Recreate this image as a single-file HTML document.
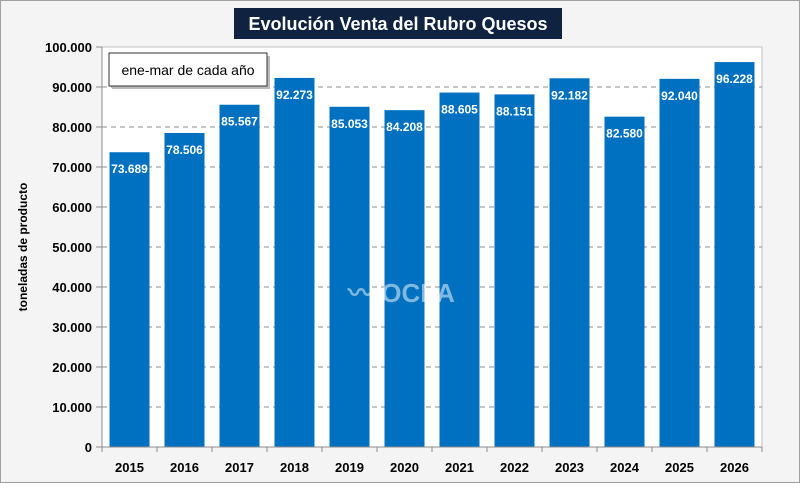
<!DOCTYPE html>
<html><head><meta charset="utf-8"><style>
body{margin:0;width:800px;height:483px;overflow:hidden;background:#fff;font-family:"Liberation Sans",sans-serif}
</style></head><body>
<svg width="800" height="483" xmlns="http://www.w3.org/2000/svg">
<rect x="0.5" y="0.5" width="799" height="482" fill="#f4f4f4" stroke="#a0a0a0"/>
<rect x="102" y="47" width="660" height="400" fill="#fff" stroke="#bfbfbf"/>
<g id="grid"></g>
<g id="bars"></g>
<g id="axes"></g>
<rect x="234" y="8" width="328" height="31" fill="#0f2240"/>
<text x="398" y="30" text-anchor="middle" font-size="18" font-weight="bold" fill="#fff">Evolución Venta del Rubro Quesos</text>
<rect x="112" y="56" width="158" height="33" fill="#bbb"/>
<rect x="109" y="53" width="158" height="33" fill="#fff" stroke="#333"/>
<text x="188" y="75" text-anchor="middle" font-size="14" fill="#000">ene-mar de cada año</text>
<text transform="translate(27,247) rotate(-90)" text-anchor="middle" font-size="12" font-weight="bold" fill="#000">toneladas de producto</text>
<text x="348" y="302" font-size="26" font-weight="bold" fill="#fff" opacity="0.5">〰 OCLA</text>
</svg>
<script>
const categories=["2015","2016","2017","2018","2019","2020","2021","2022","2023","2024","2025","2026"];
const values=[73689,78506,85567,92273,85053,84208,88605,88151,92182,82580,92040,96228];
const valueLabels=["73.689","78.506","85.567","92.273","85.053","84.208","88.605","88.151","92.182","82.580","92.040","96.228"];
const yTicks=[0,10000,20000,30000,40000,50000,60000,70000,80000,90000,100000];
const yTickLabels=["0","10.000","20.000","30.000","40.000","50.000","60.000","70.000","80.000","90.000","100.000"];
const NS="http://www.w3.org/2000/svg";
const X0=102,W=660,Y0=447,H=400,YMAX=100000;
const cw=W/categories.length;
const y=v=>Y0-v/YMAX*H;
const x=i=>X0+i*cw;
function mk(t,a,p){const e=document.createElementNS(NS,t);for(const k in a)e.setAttribute(k,a[k]);p.appendChild(e);return e;}
const g=document.getElementById('grid'),b=document.getElementById('bars'),ax=document.getElementById('axes');
yTicks.forEach((v,i)=>{
 if(v>0&&v<YMAX){const l=mk('line',{x1:X0,x2:X0+W,y1:y(v),y2:y(v),stroke:'#8c8c8c','stroke-dasharray':'5,4'},g);
 
 }
 const tk=mk('line',{x1:X0-6,x2:X0,y1:y(v),y2:y(v),stroke:'#8c8c8c'},ax);
 
 
 const t=mk('text',{x:X0-10,y:y(v)+5,'text-anchor':'end','font-size':'13','font-weight':'bold'},ax);
 t.textContent=yTickLabels[i];
 
 
});
categories.forEach((c,i)=>{
 const r=mk('rect',{x:x(i)+7.5,y:y(values[i]),width:cw-15,height:Y0-y(values[i]),fill:'#0070c0'},b);
 
 
 const t=mk('text',{x:x(i)+cw/2,y:y(values[i])+21,'text-anchor':'middle','font-size':'12','font-weight':'bold',fill:'#fff'},b);
 t.textContent=valueLabels[i];
 
 
 const xt=mk('text',{x:x(i)+cw/2,y:472,'text-anchor':'middle','font-size':'13','font-weight':'bold'},ax);
 xt.textContent=c;
 
 
 const tk=mk('line',{x1:x(i+1),x2:x(i+1),y1:Y0,y2:Y0+5,stroke:'#8c8c8c'},ax);
 
 
});
const xa=mk('line',{x1:X0-6,x2:X0+W,y1:Y0,y2:Y0,stroke:'#8c8c8c'},ax);


const ya=mk('line',{x1:X0,x2:X0,y1:47,y2:Y0+5,stroke:'#8c8c8c'},ax);


</script>
</body></html>
